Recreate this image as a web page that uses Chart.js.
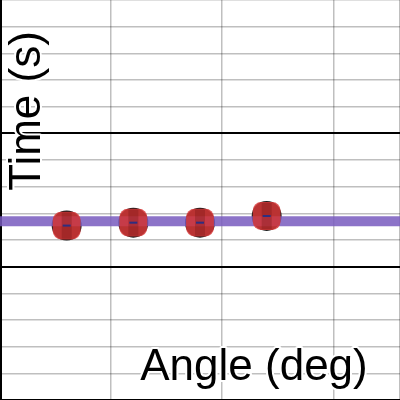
<!DOCTYPE html>
<html>
<head>
<meta charset="utf-8">
<script src="https://cdn.jsdelivr.net/npm/chart.js@4"></script>
<style>
  html, body { margin: 0; padding: 0; background: #fff; }
  #wrap { width: 400px; height: 400px; }
</style>
</head>
<body>
<div id="wrap"><canvas id="chart" width="400" height="400"></canvas></div>
<script>
const angles = [6, 12, 18, 24];
const times = [0.654, 0.665, 0.665, 0.690];
const fitX = [0, 36];
const fitY = [0.670, 0.670];
const xTitle = 'Angle (deg)';
const yTitle = 'Time (s)';

const pts = angles.map((a, i) => ({ x: a, y: times[i] }));
const fitPts = fitX.map((x, i) => ({ x: x, y: fitY[i] }));

const axisTitles = {
    id: 'axisTitles',
    afterDraw(chart) {
        const ctx = chart.ctx;
        ctx.save();
        ctx.font = '44px "Liberation Sans", Arial, sans-serif';
        ctx.lineJoin = 'round';
        ctx.strokeStyle = '#fff';
        ctx.lineWidth = 4;
        ctx.fillStyle = '#000';
        ctx.textAlign = 'center';
        ctx.textBaseline = 'alphabetic';
        ctx.strokeText(xTitle, 254, 380);
        ctx.fillText(xTitle, 254, 380);
        ctx.translate(40, 111);
        ctx.rotate(-Math.PI / 2);
        ctx.strokeText(yTitle, 0, 0);
        ctx.fillText(yTitle, 0, 0);
        ctx.restore();
    }
};

const gridColor = (ctx) => {
    const v = Math.round(ctx.tick.value * 10);
    return (v === 5 || v === 10) ? '#000' : 'rgba(0,0,0,0.25)';
};
const gridWidth = (ctx) => {
    const v = Math.round(ctx.tick.value * 10);
    return (v === 5 || v === 10) ? 2 : 1.5;
};

new Chart(document.getElementById('chart'), {
    type: 'scatter',
    data: {
        datasets: [
            {
                data: pts, order: 5,
                pointStyle: 'circle', pointRadius: 15,
                pointBackgroundColor: '#1a1a1a', pointBorderWidth: 0
            },
            {
                type: 'line', data: fitPts, order: 4,
                borderColor: 'rgba(120,90,190,0.85)', borderWidth: 10,
                pointRadius: 0, fill: false
            },
            {
                data: pts, order: 3,
                pointStyle: 'rectRounded', pointRadius: 16.2,
                pointBackgroundColor: 'rgba(215,55,55,0.85)', pointBorderWidth: 0
            },
            {
                data: pts, order: 2,
                pointStyle: 'line', pointRotation: 90, pointRadius: 13,
                pointBorderColor: 'rgba(110,20,20,0.3)', pointBorderWidth: 10,
                pointBackgroundColor: 'transparent'
            },
            {
                data: pts, order: 1,
                pointStyle: 'line', pointRadius: 4,
                pointBorderColor: '#2e2e80', pointBorderWidth: 2,
                pointBackgroundColor: 'transparent'
            }
        ]
    },
    options: {
        responsive: false,
        animation: false,
        events: [],
        layout: { padding: 0, autoPadding: false },
        plugins: { legend: { display: false }, tooltip: { enabled: false } },
        scales: {
            x: {
                min: 0, max: 36,
                ticks: { display: false, stepSize: 10 },
                grid: { color: 'rgba(0,0,0,0.25)', lineWidth: 1.5, drawTicks: false },
                border: { display: true, color: '#000', width: 3 }
            },
            y: {
                min: 0, max: 1.5,
                ticks: { display: false, stepSize: 0.1 },
                grid: { color: gridColor, lineWidth: gridWidth, drawTicks: false },
                border: { display: true, color: '#000', width: 3 }
            }
        }
    },
    plugins: [axisTitles]
});
</script>
</body>
</html>
